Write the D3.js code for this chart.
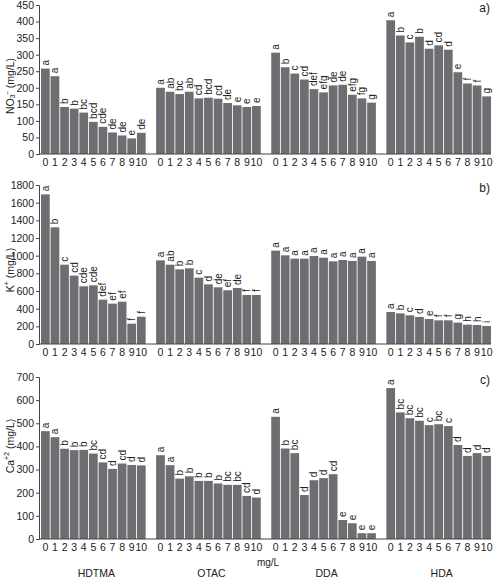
<!DOCTYPE html>
<html>
<head>
<meta charset="utf-8">
<script src="https://cdn.jsdelivr.net/npm/d3@7"></script>
<style>
  body { margin: 0; background: #fff; }
  text { font-family: "Liberation Sans", Arial, sans-serif; fill: #222; }
</style>
</head>
<body>
<svg id="chart"></svg>
<script>
var groups = ["HDTMA", "OTAC", "DDA", "HDA"];
var doses = ["0", "1", "2", "3", "4", "5", "6", "7", "8", "9", "10"];

// a) nitrate, one row per surfactant
var no3Vals = [
  [258, 235, 142, 137, 125, 97, 82, 65, 56, 47, 64],
  [200, 188, 181, 188, 168, 170, 167, 154, 147, 142, 145],
  [306, 262, 243, 225, 196, 186, 207, 209, 179, 168, 155],
  [404, 358, 337, 354, 318, 328, 315, 247, 213, 207, 174]
];
var no3Sig = [
  ["a", "a", "b", "b", "bc", "bcd", "cde", "de", "de", "e", "de"],
  ["a", "ab", "bc", "ab", "cd", "bcd", "cd", "de", "e", "e", "e"],
  ["a", "b", "c", "cd", "def", "efg", "de", "de", "efg", "fg", "g"],
  ["a", "b", "c", "b", "d", "cd", "d", "e", "f", "f", "g"]
];

// b) potassium
var kVals = [
  [1694, 1321, 898, 774, 653, 664, 502, 457, 479, 230, 309],
  [947, 898, 845, 857, 751, 675, 642, 608, 634, 555, 555],
  [1057, 1004, 966, 966, 996, 977, 936, 951, 940, 989, 940],
  [362, 347, 325, 306, 283, 268, 268, 242, 219, 215, 204]
];
var kSig = [
  ["a", "b", "c", "cd", "cde", "cde", "def", "ef", "ef", "f", "f"],
  ["a", "ab", "b", "b", "c", "d", "de", "ef", "de", "f", "f"],
  ["a", "a", "a", "a", "a", "a", "a", "a", "a", "a", "a"],
  ["a", "b", "c", "d", "e", "f", "f", "g", "h", "h", "i"]
];

// c) calcium
var caVals = [
  [466, 440, 390, 384, 385, 369, 331, 303, 326, 320, 318],
  [362, 319, 261, 271, 251, 251, 240, 234, 234, 186, 179],
  [528, 391, 371, 190, 254, 263, 280, 82, 68, 25, 25],
  [652, 547, 522, 511, 492, 496, 488, 406, 359, 371, 359]
];
var caSig = [
  ["a", "a", "b", "b", "b", "bc", "cd", "d", "cd", "d", "d"],
  ["a", "a", "b", "b", "b", "b", "b", "bc", "bc", "cd", "d"],
  ["a", "b", "bc", "d", "d", "d", "cd", "e", "e", "e", "e"],
  ["a", "bc", "bc", "bc", "c", "bc", "c", "d", "d", "d", "d"]
];

var width = 493, height = 579;
var axisX = 39;

var svg = d3.select("#chart")
  .attr("width", width)
  .attr("height", height);

// 11 bars per group plus one empty slot between groups
var slots = groups.length * 12 - 1;
var x = d3.scaleBand()
  .domain(d3.range(slots))
  .range([41, 491])
  .paddingInner(0.09)
  .paddingOuter(0);

function slotOf(g, i) { return g * 12 + i; }

var panels = [
  { vals: no3Vals, sig: no3Sig, max: 450, step: 50, top: 5, bottom: 154, titleY: 86, tag: "a)", title: "no3" },
  { vals: kVals, sig: kSig, max: 1800, step: 200, top: 185, bottom: 344, titleY: 270, tag: "b)", title: "k" },
  { vals: caVals, sig: caSig, max: 700, step: 100, top: 377, bottom: 539, titleY: 446, tag: "c)", title: "ca" }
];

panels.forEach(function(p) {
  var y = d3.scaleLinear().domain([0, p.max]).range([p.bottom, p.top]);
  var g = svg.append("g");

  // flatten into bar records
  var bars = [];
  p.vals.forEach(function(row, gi) {
    row.forEach(function(v, i) {
      bars.push({ slot: slotOf(gi, i), value: v, sig: p.sig[gi][i] });
    });
  });

  g.selectAll("rect.bar")
    .data(bars)
    .enter().append("rect")
      .attr("class", "bar")
      .attr("x", function(d) { return x(d.slot); })
      .attr("width", x.bandwidth())
      .attr("y", function(d) { return y(d.value); })
      .attr("height", function(d) { return y(0) - y(d.value); })
      .attr("fill", "#6e6e72");

  // significance letters, rotated
  g.selectAll("text.sig")
    .data(bars)
    .enter().append("text")
      .attr("class", "sig")
      .attr("transform", function(d) {
        return "translate(" + (x(d.slot) + x.bandwidth() / 2) + "," + (y(d.value) - 3) + ") rotate(-90)";
      })
      .attr("dominant-baseline", "central")
      .attr("font-size", "10px")
      .text(function(d) { return d.sig; });

  // y axis
  var yAxis = d3.axisLeft(y)
    .tickValues(d3.range(0, p.max + 1, p.step))
    .tickFormat(d3.format("d"))
    .tickSize(3)
    .tickPadding(2);
  var ya = g.append("g")
    .attr("transform", "translate(" + axisX + ",0)")
    .call(yAxis);
  ya.select(".domain").attr("stroke", "#444");
  ya.selectAll(".tick line").attr("stroke", "#444");
  ya.selectAll(".tick text").attr("font-size", "10.5px").attr("font-family", "Liberation Sans, Arial, sans-serif").attr("fill", "#222");

  // x baseline
  g.append("line")
    .attr("x1", axisX).attr("x2", 491)
    .attr("y1", y(0)).attr("y2", y(0))
    .attr("stroke", "#444");

  // dose tick labels
  var xAxis = d3.axisBottom(x)
    .tickValues(x.domain().filter(function(s) { return s % 12 !== 11; }))
    .tickSize(0)
    .tickPadding(5)
    .tickFormat(function(s) { return doses[s % 12]; });
  var xa = g.append("g")
    .attr("transform", "translate(0," + y(0) + ")")
    .call(xAxis);
  xa.select(".domain").remove();
  xa.selectAll(".tick text").attr("font-size", "10.5px").attr("font-family", "Liberation Sans, Arial, sans-serif").attr("fill", "#222");

  // panel tag
  g.append("text")
    .attr("x", 490)
    .attr("y", p.top + 7)
    .attr("text-anchor", "end")
    .attr("font-size", "12px")
    .text(p.tag);

  // y title
  var t = g.append("text")
    .attr("transform", "translate(10," + p.titleY + ") rotate(-90)")
    .attr("text-anchor", "middle")
    .attr("dominant-baseline", "central")
    .attr("font-size", "10.5px");
  if (p.title === "no3") {
    t.append("tspan").text("NO");
    t.append("tspan").attr("font-size", "7px").attr("dy", 2).text("3");
    t.append("tspan").attr("font-size", "7px").attr("dy", -5).attr("dx", -1).text("\u2212");
    t.append("tspan").attr("dy", 3).text(" (mg/L)");
  } else if (p.title === "k") {
    t.append("tspan").text("K");
    t.append("tspan").attr("font-size", "7px").attr("dy", -4).text("+");
    t.append("tspan").attr("dy", 4).text(" (mg/L)");
  } else {
    t.append("tspan").text("Ca");
    t.append("tspan").attr("font-size", "7px").attr("dy", -4).text("+2");
    t.append("tspan").attr("dy", 4).text(" (mg/L)");
  }
});

// unit and group names under the last panel
svg.append("text")
  .attr("x", 268)
  .attr("y", 566)
  .attr("text-anchor", "middle")
  .attr("font-size", "10px")
  .text("mg/L");

svg.selectAll("text.group")
  .data(groups)
  .enter().append("text")
    .attr("class", "group")
    .attr("x", function(d, gi) { return x(slotOf(gi, 5)) + x.bandwidth() / 2 + 3; })
    .attr("y", 577)
    .attr("text-anchor", "middle")
    .attr("font-size", "10.5px")
    .text(function(d) { return d; });
</script>
</body>
</html>
